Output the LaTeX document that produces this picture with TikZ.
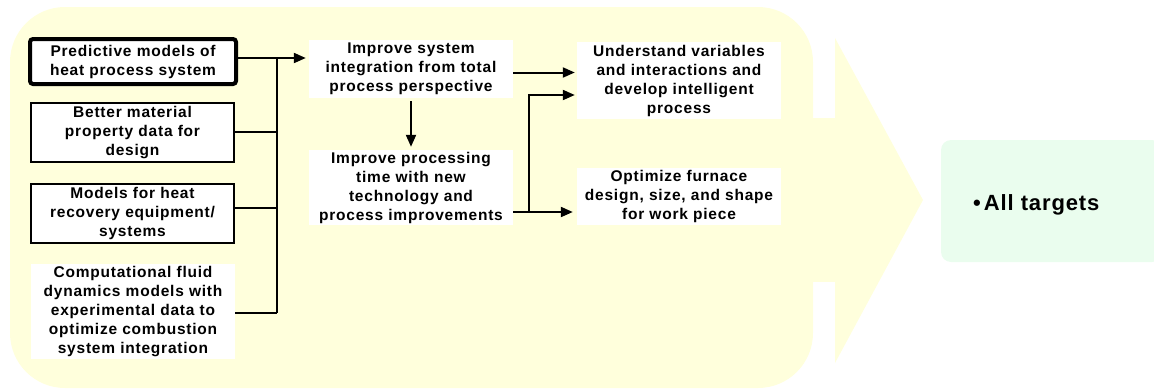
\documentclass[tikz,border=0pt]{standalone}
\usepackage{fontspec}
\setmainfont{Liberation Sans}[LetterSpace=5]
\newfontfamily\bigf{Liberation Sans}[LetterSpace=4]
\usetikzlibrary{arrows.meta}
\definecolor{ybg}{HTML}{FFFFDC}
\definecolor{gbg}{HTML}{EAFDEE}
\begin{document}
\begin{tikzpicture}[x=1pt,y=-1pt,
  txt/.style={align=center,inner sep=0pt,font=\fontsize{15.5}{19}\selectfont\bfseries},
  wbox/.style={txt,fill=white,text width=#1},
  bbox/.style={wbox=#1,draw=black,line width=1.6pt},
  ln/.style={line width=2pt},
  arr/.style={line width=2pt,-{Triangle[length=12pt,width=10pt]}}]
\useasboundingbox (0,0) rectangle (1154,389);
% yellow background arrow
\fill[ybg,rounded corners=55pt] (10,7) rectangle (813,388);
\fill[ybg] (812,118) rectangle (836,282);
\fill[ybg] (835,38) -- (923,200) -- (835,363) -- cycle;
% green target box
\fill[gbg,rounded corners=10pt] (941,140) rectangle (1162,262);
\node[anchor=base west,inner sep=0pt,font=\bigf\fontsize{22}{24}\selectfont\bfseries] (tg) at (973,210) {\char"2022\hspace{3pt}All targets};
% left boxes
\node[wbox=206pt,minimum width=206pt,minimum height=45pt,draw=black,line width=4pt,rounded corners=3pt] (b1) at (133,61.5) {Predictive models of\\heat process system};
\node[bbox=203.5pt,minimum width=203.5pt,minimum height=59.5pt] (b2) at (132.5,132.5) {Better material\\property data for\\design};
\node[bbox=203.5pt,minimum width=203.5pt,minimum height=59.5pt] (b3) at (132.5,213.5) {Models for heat\\recovery equipment/\\systems};
\node[wbox=204pt,minimum width=204pt,minimum height=95pt] (b4) at (133,311.5) {Computational fluid\\dynamics models with\\experimental data to\\optimize combustion\\system integration};
% middle boxes
\node[wbox=204pt,minimum width=204pt,minimum height=58pt] (m1) at (411,69) {Improve system\\integration from total\\process perspective};
\node[wbox=204pt,minimum width=204pt,minimum height=75pt] (m2) at (411,187.5) {Improve processing\\time with new\\technology and\\process improvements};
% right boxes
\node[wbox=204pt,minimum width=204pt,minimum height=77pt] (r1) at (679,80.5) {Understand variables\\and interactions and\\develop intelligent\\process};
\node[wbox=204pt,minimum width=204pt,minimum height=57pt] (r2) at (679,196.5) {Optimize furnace\\design, size, and shape\\for work piece};
% bus
\coordinate (bus1) at (277,58);
\coordinate (bus4) at (277,313);
\draw[ln] ([yshift=3.5pt]b1.east) -- (bus1);
\draw[ln] (bus1) -- (bus4);
\draw[ln] ([yshift=0.5pt]b2.east) -- ([yshift=0.5pt]b2.east -| bus1);
\draw[ln] ([yshift=5.5pt]b3.east) -- ([yshift=5.5pt]b3.east -| bus1);
\draw[ln] ([yshift=-1.5pt]b4.east) -- (bus4);
\draw[arr] (bus1) -- ([xshift=-3pt]m1.west |- bus1);
% middle to right
\draw[arr] ([yshift=-3pt]m1.south) -- ([yshift=3pt]m2.north);
\coordinate (m1o) at ([yshift=-3.5pt]m1.east);
\draw[arr] (m1o) -- ([xshift=-2pt]r1.west |- m1o);
\coordinate (m2o) at ([yshift=-24.5pt]m2.east);
\coordinate (split) at ([xshift=16pt]m2o);
\draw[arr] (m2o) -- ([xshift=-4pt]r2.west |- m2o);
\draw[arr] (split) |- ([xshift=-2pt,yshift=-14.5pt]r1.west);
\end{tikzpicture}
\end{document}
